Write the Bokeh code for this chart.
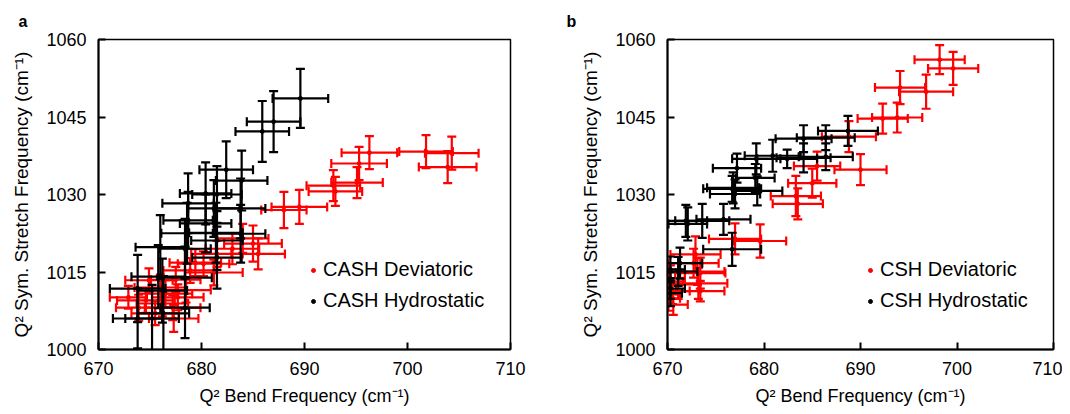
import math
from bokeh.plotting import figure
from bokeh.layouts import row
from bokeh.models import ColumnDataSource, Range1d, FixedTicker, Legend, LegendItem, Title
from bokeh.embed import file_html
from bokeh.resources import INLINE

# ---------------- Panel a data (CASH) ----------------
a_dev_x = [701.8, 704.3, 703.9, 696.3, 695.3, 695.1, 692.8, 693.0, 689.5, 688.0,
           685.0, 685.5, 684.0, 683.0, 681.5, 680.2, 681.2, 679.4, 678.9, 677.5,
           674.9, 676.0, 674.6, 676.2, 677.2, 677.3, 677.7, 673.9, 672.9, 675.5,
           678.5, 676.5]
a_dev_y = [1038.3, 1038.0, 1035.3, 1038.1, 1036.0, 1032.3, 1031.7, 1030.6, 1027.6, 1027.0,
           1020.5, 1018.5, 1021.5, 1019.5, 1018.5, 1016.6, 1014.9, 1016.8, 1015.3, 1013.5,
           1013.4, 1012.0, 1009.5, 1008.9, 1008.1, 1006.0, 1010.1, 1008.1, 1010.1, 1007.0,
           1011.5, 1010.8]
a_dev_xerr = [2.6, 2.6, 2.8, 2.7, 2.7, 2.5, 2.6, 2.6, 2.7, 2.2,
              2.8, 2.6, 2.5, 2.6, 2.5, 2.5, 2.8, 2.5, 2.6, 2.4,
              2.3, 2.5, 2.8, 2.5, 2.7, 2.4, 2.5, 2.2, 1.8, 2.3,
              2.4, 2.6]
a_dev_yerr = [3.2, 3.2, 3.1, 3.2, 3.2, 3.0, 3.0, 2.8, 3.3, 3.5,
              3.5, 3.0, 2.8, 3.0, 2.5, 2.4, 2.5, 2.6, 2.4, 2.5,
              2.3, 2.5, 2.4, 2.5, 2.4, 2.6, 2.5, 2.5, 2.2, 2.3,
              2.4, 2.6]

a_hyd_x = [689.6, 687.0, 685.9, 682.4, 683.9, 680.4, 681.5, 678.7, 681.2, 683.8,
           678.7, 680.4, 681.4, 683.8, 678.6, 681.5, 681.5, 676.0, 678.4, 678.4,
           675.8, 673.8, 676.2, 673.8, 675.2, 676.3, 678.4]
a_hyd_y = [1048.6, 1044.1, 1042.2, 1034.8, 1032.7, 1030.2, 1030.0, 1028.3, 1027.3, 1027.3,
           1025.0, 1024.4, 1022.6, 1022.4, 1022.5, 1021.1, 1017.8, 1019.8, 1019.5, 1013.9,
           1014.1, 1011.8, 1011.4, 1006.0, 1006.0, 1007.0, 1008.1]
a_hyd_xerr = [2.7, 2.6, 2.6, 2.6, 2.5, 2.5, 2.4, 2.5, 2.5, 2.4,
              2.4, 2.5, 2.6, 2.4, 2.5, 2.5, 2.4, 2.4, 2.5, 2.6,
              2.6, 2.7, 2.4, 2.4, 2.6, 2.5, 2.4]
a_hyd_yerr = [5.7, 5.9, 5.9, 5.5, 5.8, 6.0, 5.5, 5.8, 5.5, 5.8,
              5.5, 5.6, 5.8, 5.6, 5.9, 5.7, 6.0, 6.2, 5.8, 6.0,
              6.1, 6.5, 6.2, 5.8, 6.5, 7.2, 5.9]

# ---------------- Panel b data (CSH) ----------------
b_dev_x = [698.2, 699.6, 696.8, 694.1, 693.8, 692.3, 688.8, 690.0, 685.0, 683.3,
           683.5, 679.6, 677.0, 672.9, 673.4, 673.2, 671.1, 670.5, 670.3, 670.6,
           670.1, 672.7, 673.1, 670.1, 673.4, 685.5]
b_dev_y = [1056.1, 1054.4, 1049.9, 1050.7, 1044.9, 1044.7, 1041.2, 1034.8, 1032.2, 1029.7,
           1028.2, 1021.0, 1021.4, 1018.4, 1014.8, 1012.8, 1012.6, 1011.3, 1013.8, 1008.7,
           1009.9, 1016.7, 1015.1, 1013.2, 1011.3, 1035.5]
b_dev_xerr = [2.6, 2.6, 2.8, 2.6, 2.6, 2.6, 2.8, 2.7, 2.5, 2.6,
              2.6, 2.7, 2.7, 2.6, 2.6, 3.0, 2.2, 1.8, 1.5, 1.5,
              1.2, 2.6, 2.8, 1.5, 2.5, 2.4]
b_dev_yerr = [2.8, 3.2, 3.3, 3.2, 2.9, 2.9, 3.0, 3.0, 2.8, 3.9,
              3.0, 3.2, 3.0, 3.5, 3.0, 3.0, 2.8, 2.5, 2.5, 2.0,
              2.4, 2.8, 2.6, 2.2, 2.0, 2.8]

b_hyd_x = [688.7, 686.4, 684.1, 686.4, 684.1, 680.9, 682.4, 679.2, 677.2, 676.8,
           679.1, 679.3, 676.7, 677.0, 671.9, 673.6, 675.8, 676.7, 671.3, 671.1,
           670.3, 670.3, 670.3, 672.1]
b_hyd_y = [1042.3, 1041.0, 1040.8, 1037.3, 1037.1, 1037.5, 1036.9, 1036.9, 1035.1, 1031.3,
           1033.2, 1030.7, 1031.1, 1030.1, 1024.9, 1024.9, 1025.2, 1019.4, 1016.7, 1015.1,
           1015.5, 1010.9, 1011.8, 1024.3]
b_hyd_xerr = [3.1, 3.0, 2.9, 2.8, 2.8, 2.9, 3.1, 2.5, 2.5, 2.7,
              2.0, 2.6, 3.0, 2.6, 2.2, 2.8, 2.8, 3.0, 2.3, 2.0,
              1.5, 1.2, 1.5, 2.0]
b_hyd_yerr = [2.9, 2.4, 2.6, 2.6, 2.8, 3.1, 1.8, 3.0, 2.8, 3.0,
              2.7, 2.8, 2.5, 2.8, 3.1, 3.3, 3.0, 3.2, 3.0, 2.8,
              2.5, 2.5, 2.0, 3.2]

x_ticks = [670, 680, 690, 700, 710]
y_ticks = [1000, 1015, 1030, 1045, 1060]

FONT = "Liberation Sans"
RED = "#FF0000"
BLACK = "#000000"


def draw_series(p, xs, ys, xe, ye, color):
    src = ColumnDataSource(dict(
        x=xs, y=ys,
        xl=[a - b for a, b in zip(xs, xe)], xh=[a + b for a, b in zip(xs, xe)],
        yl=[a - b for a, b in zip(ys, ye)], yh=[a + b for a, b in zip(ys, ye)],
    ))
    p.segment(x0="xl", y0="y", x1="xh", y1="y", source=src, line_color=color, line_width=2.2)
    p.segment(x0="x", y0="yl", x1="x", y1="yh", source=src, line_color=color, line_width=2.2)
    for cx, cy, ang in (("xl", "y", math.pi / 2), ("xh", "y", math.pi / 2), ("x", "yl", 0), ("x", "yh", 0)):
        p.scatter(x=cx, y=cy, source=src, marker="dash", angle=ang, size=9,
                  line_color=color, line_width=2.2)
    return p.scatter(x="x", y="y", source=src, size=4, color=color)


def make_panel(width, left, right, dev, hyd, names, legend_x, letter, letter_off):
    p = figure(width=width, height=412, output_backend="svg", toolbar_location=None,
               x_range=Range1d(670, 710), y_range=Range1d(1000, 1060),
               min_border_left=left, min_border_right=right,
               min_border_top=39, min_border_bottom=63)
    p.grid.visible = False
    p.outline_line_color = BLACK
    p.outline_line_width = 1.5
    p.background_fill_color = "white"
    p.border_fill_color = "white"
    p.xaxis.ticker = FixedTicker(ticks=x_ticks)
    p.yaxis.ticker = FixedTicker(ticks=y_ticks)
    for ax in (p.xaxis[0], p.yaxis[0]):
        ax.axis_line_width = 2
        ax.axis_line_color = BLACK
        ax.major_tick_in = 7
        ax.major_tick_out = 0
        ax.major_tick_line_width = 2
        ax.major_tick_line_color = BLACK
        ax.minor_tick_line_color = None
        ax.major_label_text_font = FONT
        ax.major_label_text_font_size = "18px"
        ax.major_label_text_color = BLACK
        ax.major_label_standoff = 12
        ax.axis_label_text_font = FONT
        ax.axis_label_text_font_style = "normal"
        ax.axis_label_text_color = BLACK
    p.xaxis.axis_label_text_font_size = "18px"
    p.yaxis.axis_label_text_font_size = "19px"
    p.xaxis.axis_label_standoff = 8
    p.yaxis.axis_label_standoff = 11
    p.xaxis.axis_label = "Q² Bend Frequency (cm⁻¹)"
    p.yaxis.axis_label = "Q² Sym. Stretch Frequency (cm⁻¹)"

    r_dev = draw_series(p, *dev, RED)
    r_hyd = draw_series(p, *hyd, BLACK)

    legend = Legend(items=[LegendItem(label=names[0], renderers=[r_dev]),
                           LegendItem(label=names[1], renderers=[r_hyd])],
                    location=(legend_x, 37))
    legend.border_line_color = None
    legend.background_fill_alpha = 0
    legend.label_text_font = FONT
    legend.label_text_font_size = "20px"
    legend.label_text_color = BLACK
    legend.glyph_width = 10
    legend.glyph_height = 20
    legend.label_height = 20
    legend.spacing = 8
    legend.padding = 0
    legend.margin = 0
    legend.label_standoff = 5
    p.add_layout(legend)

    p.add_layout(Title(text=letter, align="left", offset=letter_off, standoff=20,
                       text_font=FONT, text_font_size="16px", text_font_style="bold",
                       text_color=BLACK), "above")
    return p


p1 = make_panel(548, 98, 38, (a_dev_x, a_dev_y, a_dev_xerr, a_dev_yerr),
                (a_hyd_x, a_hyd_y, a_hyd_xerr, a_hyd_yerr),
                ("CASH Deviatoric", "CASH Hydrostatic"), 210, "a", -80)
p2 = make_panel(514, 119, 9, (b_dev_x, b_dev_y, b_dev_xerr, b_dev_yerr),
                (b_hyd_x, b_hyd_y, b_hyd_xerr, b_hyd_yerr),
                ("CSH Deviatoric", "CSH Hydrostatic"), 198, "b", -101)

layout = row(p1, p2)
open("out.html", "w").write(file_html(layout, INLINE))
